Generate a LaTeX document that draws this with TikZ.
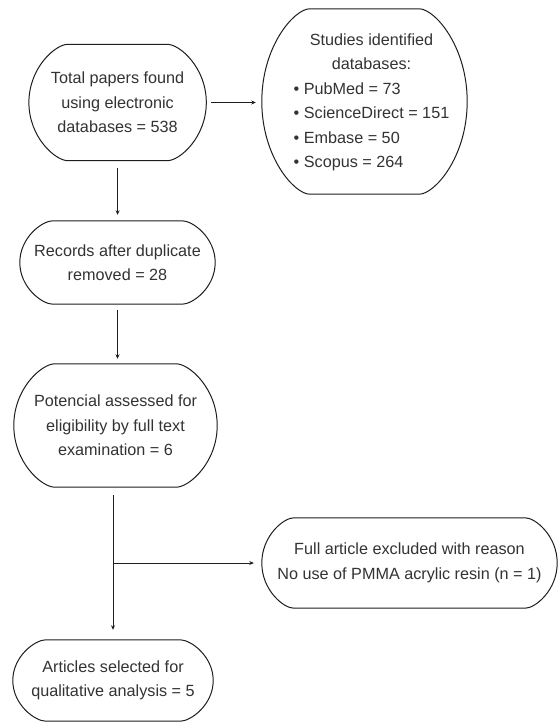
\documentclass[tikz,border=0pt]{standalone}
\usepackage{fontspec}
\setmainfont{Liberation Sans}
\usetikzlibrary{arrows.meta,calc}
\definecolor{txt}{HTML}{333333}
\definecolor{ln}{HTML}{1E1E1E}
\newcommand\ovalshape[2][38pt]{%
  \draw[ovalline] let \p1=(#2.south west),\p2=(#2.north east),\p3=(#2.center) in
   (\x2-#1,\y2) .. controls (\x2-0.68*#1,\y2) and (\x2,{\y3+0.6*(\y2-\y3)}) .. (\x2,\y3)
   .. controls (\x2,{\y3-0.6*(\y2-\y3)}) and (\x2-0.68*#1,\y1) .. (\x2-#1,\y1)
   -- (\x1+#1,\y1)
   .. controls (\x1+0.68*#1,\y1) and (\x1,{\y3-0.6*(\y2-\y3)}) .. (\x1,\y3)
   .. controls (\x1,{\y3+0.6*(\y2-\y3)}) and (\x1+0.68*#1,\y2) .. (\x1+#1,\y2) -- cycle;}
\tikzset{
  box/.style={inner sep=0pt, align=center, text=txt,
    font=\fontsize{16.2}{24.5}\selectfont},
  ovalline/.style={draw=ln, line width=1pt},
  arr/.style={draw=ln, line width=1pt, -{Stealth[length=4.5pt,width=4pt]}}
}
\begin{document}
\begin{tikzpicture}[x=1pt,y=-1pt]
\useasboundingbox (0,0) rectangle (559,723);
\fill[white] (0,0) rectangle (559,723);
\node[box, minimum width=177pt, minimum height=116pt] (b1) at (117.6,102.5)
  {Total papers found\\using electronic\\databases = 538};
\node[box, minimum width=205pt, minimum height=185pt] (b2) at (364.5,101.5)
  {\hspace*{14pt}\begin{tabular}{@{}l@{}}
   \multicolumn{1}{@{}c@{}}{Studies identified}\\
   \multicolumn{1}{@{}c@{}}{databases:}\\
   \textbullet\ PubMed = 73\\
   \textbullet\ ScienceDirect = 151\\
   \textbullet\ Embase = 50\\
   \textbullet\ Scopus = 264
   \end{tabular}};
\node[box, minimum width=195pt, minimum height=83pt] (b3) at (117.5,262.5)
  {Records after duplicate\\removed = 28};
\node[box, minimum width=203pt, minimum height=123pt] (b4) at (115.5,425.5)
  {Potencial assessed for\\eligibility by full text\\examination = 6};
\node[box, minimum width=295pt, minimum height=90pt] (b5) at (409.5,563)
  {Full article excluded with reason\\No use of PMMA acrylic resin (n = 1)};
\node[box, minimum width=200pt, minimum height=81pt] (b6) at (113,680.5)
  {Articles selected for\\qualitative analysis = 5};
\ovalshape[39pt]{b1}
\ovalshape[48pt]{b2}
\ovalshape[33pt]{b3}
\ovalshape[41pt]{b4}
\ovalshape[32pt]{b5}
\ovalshape[33pt]{b6}
\draw[arr, shorten <=5pt, shorten >=6pt] (b1.east) -- (b1.east -| b2.west);
\draw[arr, shorten <=7pt, shorten >=6pt] (b1.south) -- (b1.south |- b3.north);
\draw[arr, shorten <=6pt, shorten >=5pt] (b3.south) -- (b3.south |- b4.north);
\draw[arr, shorten <=8pt, shorten >=10pt] (b4.south -| b6.north) -- (b6.north);
\coordinate (j) at (b6.north |- b5.west);
\draw[arr, shorten >=8pt] (j) -- (b5.west);
\end{tikzpicture}
\end{document}
